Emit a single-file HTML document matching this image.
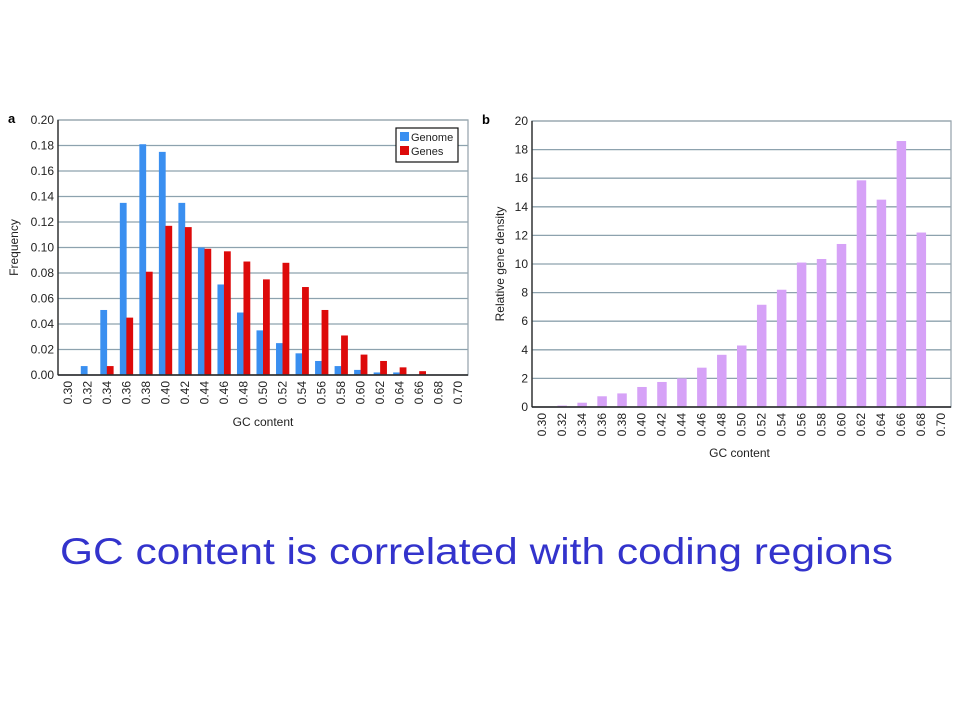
<!DOCTYPE html>
<html><head><meta charset="utf-8"><style>
html,body{margin:0;padding:0;background:#fff;}
svg{display:block;font-family:"Liberation Sans",Arial,sans-serif;}
</style></head><body>
<svg id="s" width="960" height="720" viewBox="0 0 960 720">
<rect width="960" height="720" fill="#fff"/>
<g id="ca"></g>
<g id="cb"></g>
<text x="60" y="564" font-size="37" fill="#3333cc" textLength="833" lengthAdjust="spacingAndGlyphs">GC content is correlated with coding regions</text>
</svg>
<script>
const categories = ["0.30","0.32","0.34","0.36","0.38","0.40","0.42","0.44","0.46","0.48","0.50","0.52","0.54","0.56","0.58","0.60","0.62","0.64","0.66","0.68","0.70"];
const genomeValues = [0,0.007,0.051,0.135,0.181,0.175,0.135,0.100,0.071,0.049,0.035,0.025,0.017,0.011,0.007,0.004,0.002,0.002,0,0,0];
const genesValues = [0,0,0.007,0.045,0.081,0.117,0.116,0.099,0.097,0.089,0.075,0.088,0.069,0.051,0.031,0.016,0.011,0.006,0.003,0,0];
const densityValues = [0,0.1,0.3,0.75,0.95,1.4,1.75,2.0,2.75,3.65,4.3,7.15,8.2,10.1,10.35,11.4,15.85,14.5,18.6,12.2,0];
const ticksA = ["0.00","0.02","0.04","0.06","0.08","0.10","0.12","0.14","0.16","0.18","0.20"];
const ticksB = ["0","2","4","6","8","10","12","14","16","18","20"];
const NS="http://www.w3.org/2000/svg";
function mk(p,t,a){const e=document.createElementNS(NS,t);for(const k in a)e.setAttribute(k,a[k]);p.appendChild(e);return e;}

function axes(g,L,R,T,B,ticks,max,letter,ylabel,ylx){
  const y=v=>B-(v/max)*(B-T);
  ticks.forEach((t,i)=>{
    const v=parseFloat(t), yy=y(v);
    const gl=mk(g,'line',{x1:L,x2:R,y1:yy,y2:yy,stroke:'#8da2ae','stroke-width':1.3});
    
    
    const tx=mk(g,'text',{x:L-4,y:yy+4,'font-size':12,'text-anchor':'end',fill:'#222'});
    tx.textContent=t;
    
    
  });
  const bw=(R-L)/categories.length;
  categories.forEach((c,i)=>{
    const cx=L+(i+0.5)*bw;
    const tx=mk(g,'text',{transform:`translate(${cx+4},${B+6}) rotate(-90)`,'font-size':12,'text-anchor':'end',fill:'#222'});
    tx.textContent=c;
    
    
  });
  const lt=mk(g,'text',{x:L-50,y:T+3,'font-size':13,'font-weight':'bold',fill:'#000'});
  lt.textContent=letter;
  
  
  const yl=mk(g,'text',{transform:`translate(${ylx},${(T+B)/2}) rotate(-90)`,'font-size':12,'text-anchor':'middle',fill:'#222'});
  yl.textContent=ylabel;
  
  
  return {y,bw};
}
function frame(g,L,R,T,B){
  const f=mk(g,'rect',{x:L,y:T,width:R-L,height:B-T,fill:'none',stroke:'#9aa8b0','stroke-width':1.3});
  
  
  const ax=mk(g,'line',{x1:L,x2:R,y1:B,y2:B,stroke:'#222','stroke-width':1.5});
  
  
  const ay=mk(g,'line',{x1:L,x2:L,y1:T,y2:B,stroke:'#222','stroke-width':1.3});
  
  
}

// Chart A
(function(){
  const g=document.getElementById('ca');
  const L=58,R=468,T=120,B=375;
  const {y,bw}=axes(g,L,R,T,B,ticksA,0.20,'a','Frequency',18);
  categories.forEach((c,i)=>{
    const cx=L+(i+0.5)*bw;
    const v1=genomeValues[i], v2=genesValues[i];
    if(v1>0){const r=mk(g,'rect',{x:cx-6.5,y:y(v1),width:6.8,height:B-y(v1),fill:'#3a8ff0'});
      
      }
    if(v2>0){const r=mk(g,'rect',{x:cx,y:y(v2),width:6.8,height:B-y(v2),fill:'#dd0a0a'});
      
      }
  });
  frame(g,L,R,T,B);
  const lg=mk(g,'g',{});
  
  
  mk(lg,'rect',{x:396,y:128,width:62,height:34,fill:'#fff',stroke:'#111','stroke-width':1.2});
  mk(lg,'rect',{x:400,y:132,width:9,height:9,fill:'#3a8ff0'});
  mk(lg,'rect',{x:400,y:146,width:9,height:9,fill:'#dd0a0a'});
  const t1=mk(lg,'text',{x:411,y:141,'font-size':11,fill:'#222'});t1.textContent='Genome';
  
  
  const t2=mk(lg,'text',{x:411,y:155,'font-size':11,fill:'#222'});t2.textContent='Genes';
  
  
  const xl=mk(g,'text',{x:(L+R)/2,y:426,'font-size':12,'text-anchor':'middle',fill:'#222'});
  xl.textContent='GC content';
  
  
})();

// Chart B
(function(){
  const g=document.getElementById('cb');
  const L=532,R=951,T=121,B=407;
  const {y,bw}=axes(g,L,R,T,B,ticksB,20,'b','Relative gene density',504);
  categories.forEach((c,i)=>{
    const cx=L+(i+0.5)*bw;
    const v=densityValues[i];
    if(v>0){const r=mk(g,'rect',{x:cx-4.5,y:y(v),width:9.5,height:B-y(v),fill:'#d6a2f7'});
      
      }
  });
  frame(g,L,R,T,B);
  const xl=mk(g,'text',{x:(L+R)/2-2,y:457,'font-size':12,'text-anchor':'middle',fill:'#222'});
  xl.textContent='GC content';
  
  
})();
</script>
</body></html>
